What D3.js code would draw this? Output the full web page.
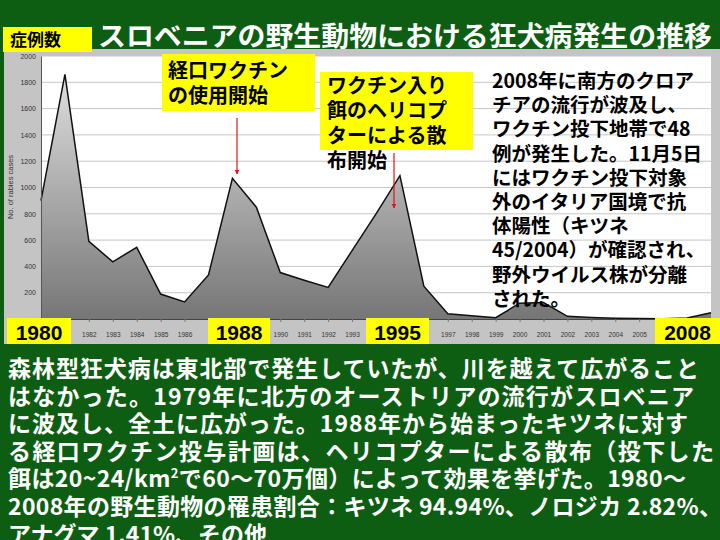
<!DOCTYPE html>
<html>
<head>
<meta charset="utf-8">
<script src="https://cdn.jsdelivr.net/npm/d3@7"></script>
<style>
html,body{margin:0;padding:0;background:#0d5e12;}
svg{display:block;}
</style>
</head>
<body>
<svg id="chart" width="720" height="540"></svg>
<script>
// ---- data ----
const years = [1980,1981,1982,1983,1984,1985,1986,1987,1988,1989,1990,1991,1992,1993,1994,1995,1996,1997,1998,1999,2000,2001,2002,2003,2004,2005,2006,2007,2008];
const cases = [900,1860,590,435,545,190,130,335,1070,850,353,295,240,520,800,1090,250,40,25,10,120,125,20,12,6,4,2,8,48];
const yTicks = [0,200,400,600,800,1000,1200,1400,1600,1800,2000];
const yAxisTitle = "No. of rabies cases";
const titleText = "スロベニアの野生動物における狂犬病発生の推移";
const yLabelBox = "症例数";
const highlightYears = ["1980","1988","1995","2008"];
const noteVaccine = ["経口ワクチン","の使用開始"];
const noteHeli = ["ワクチン入り","餌のヘリコプ","ターによる散","布開始"];
const noteCroatia = ["2008年に南方のクロア","チアの流行が波及し、","ワクチン投下地帯で48","例が発生した。11月5日","にはワクチン投下対象","外のイタリア国境で抗","体陽性（キツネ","45/2004）が確認され、","野外ウイルス株が分離","された。"];
const bodyText = [
  "森林型狂犬病は東北部で発生していたが、川を越えて広がること",
  "はなかった。1979年に北方のオーストリアの流行がスロベニア",
  "に波及し、全土に広がった。1988年から始まったキツネに対す",
  "る経口ワクチン投与計画は、ヘリコプターによる散布（投下した",
  ["餌は20~24/km","2","で60～70万個）によって効果を挙げた。1980～"],
  "2008年の野生動物の罹患割合：キツネ 94.94%、ノロジカ 2.82%、",
  "アナグマ 1.41%、その他"
];

// ---- layout ----
const svg = d3.select("#chart");
const GREEN = "#0d5e12", YELLOW = "#ffff00";
const CJK = "'Noto Sans CJK JP','Noto Sans CJK SC',sans-serif";
const LAT = "'Liberation Sans',Arial,sans-serif";
const plot = {x0:41, x1:711, y0:56, y1:319};
const yearBoxes = [[7,64],[208,62],[366,63],[655,65]];

svg.append("rect").attr("width",720).attr("height",540).attr("fill",GREEN);

// chart frame
svg.append("rect").attr("x",4).attr("y",49).attr("width",716).attr("height",295).attr("fill","#c4c4c4");
svg.append("rect").attr("x",plot.x0).attr("y",plot.y0).attr("width",plot.x1-plot.x0).attr("height",plot.y1-plot.y0).attr("fill","#ffffff");

const x = d3.scalePoint().domain(years).range([plot.x0, plot.x1]);
const y = d3.scaleLinear().domain([0,2000]).range([plot.y1, plot.y0]);

// gridlines
svg.append("g").selectAll("line").data(yTicks.filter(d=>d>0)).join("line")
  .attr("x1",plot.x0).attr("x2",plot.x1)
  .attr("y1",d=>y(d)).attr("y2",d=>y(d))
  .attr("stroke","#c6c6c6").attr("stroke-width",1);

// gradient
const defs = svg.append("defs");
const grad = defs.append("linearGradient").attr("id","areaGrad")
  .attr("gradientUnits","userSpaceOnUse").attr("x1",0).attr("x2",0).attr("y1",plot.y0).attr("y2",plot.y1);
grad.append("stop").attr("offset","0%").attr("stop-color","#e6e6e6");
grad.append("stop").attr("offset","100%").attr("stop-color","#767676");

const data = years.map((yr,i)=>({yr, v:cases[i]}));
svg.append("path").datum(data)
  .attr("d", d3.area().x(d=>x(d.yr)).y0(y(0)).y1(d=>y(d.v)))
  .attr("fill","url(#areaGrad)");
svg.append("path").datum(data)
  .attr("d", d3.line().x(d=>x(d.yr)).y(d=>y(d.v)))
  .attr("fill","none").attr("stroke","#111").attr("stroke-width",1.5).attr("stroke-linejoin","miter");

// axes
const yAxis = svg.append("g").attr("transform",`translate(${plot.x0},0)`)
  .call(d3.axisLeft(y).tickValues(yTicks.filter(d=>d>0)).tickFormat(d3.format("d")).tickSize(0).tickPadding(5));
yAxis.select(".domain").attr("stroke","#555");
yAxis.selectAll("text").attr("font-family",LAT).attr("font-size",7).attr("fill","#333");

// x labels: skip the ones the yellow year boxes cover
const covered = yr => yearBoxes.some(([bx,bw]) => x(yr)+9 > bx && x(yr)-9 < bx+bw);
const xAxis = svg.append("g").attr("transform",`translate(0,${plot.y1})`)
  .call(d3.axisBottom(x).tickValues(years).tickSize(3).tickPadding(10)
    .tickFormat(d => covered(d) ? "" : String(d)));
xAxis.select(".domain").attr("stroke","#444");
xAxis.selectAll(".tick line").attr("stroke","#777");
xAxis.selectAll("text").attr("font-family",LAT).attr("font-size",6.5).attr("fill","#333");

svg.append("text").attr("transform","translate(13,187) rotate(-90)")
  .attr("text-anchor","middle").attr("font-family",LAT).attr("font-size",7.5).attr("fill","#333")
  .text(yAxisTitle);

// title
svg.append("text").attr("x",98).attr("y",46).attr("font-family",CJK).attr("font-size",27)
  .attr("font-weight","bold").attr("fill","#ffffff")
  .attr("textLength",614).attr("lengthAdjust","spacingAndGlyphs").text(titleText);

// 症例数 box
svg.append("rect").attr("x",3).attr("y",27).attr("width",89).attr("height",25).attr("fill",YELLOW);
svg.append("text").attr("x",10).attr("y",46).attr("font-family",CJK).attr("font-size",17)
  .attr("font-weight","bold").attr("fill","#000").text(yLabelBox);

// annotation 1
svg.append("rect").attr("x",162).attr("y",54).attr("width",153).attr("height",57).attr("fill",YELLOW);
svg.append("g").selectAll("text").data(noteVaccine).join("text")
  .attr("x",168).attr("y",(d,i)=>78+i*24.5)
  .attr("font-family",CJK).attr("font-size",20).attr("font-weight","bold").attr("fill","#000").text(d=>d);

// annotation 2
svg.append("rect").attr("x",320).attr("y",72).attr("width",153).attr("height",78).attr("fill",YELLOW);
svg.append("g").selectAll("text").data(noteHeli).join("text")
  .attr("x",327).attr("y",(d,i)=>92.5+i*25)
  .attr("font-family",CJK).attr("font-size",20).attr("font-weight","bold").attr("fill","#000").text(d=>d);

// arrows
const RED = "#e8101a";
defs.append("marker").attr("id","arr").attr("viewBox","0 0 10 10").attr("refX",9).attr("refY",5)
  .attr("markerWidth",4).attr("markerHeight",4).attr("orient","auto")
  .append("path").attr("d","M0,0 L10,5 L0,10 z").attr("fill",RED);
[[237,118,174],[394,153,208]].forEach(a=>{
  svg.append("line").attr("x1",a[0]).attr("x2",a[0]).attr("y1",a[1]).attr("y2",a[2])
    .attr("stroke",RED).attr("stroke-width",1.2).attr("marker-end","url(#arr)");
});

// Croatia note
svg.append("g").selectAll("text").data(noteCroatia).join("text")
  .attr("x",492).attr("y",(d,i)=>88+i*24.2)
  .attr("font-family",CJK).attr("font-size",19.5).attr("font-weight","bold").attr("fill","#000").text(d=>d);

// highlight year boxes
highlightYears.forEach((t,i)=>{
  const [bx,bw] = yearBoxes[i];
  svg.append("rect").attr("x",bx).attr("y",318).attr("width",bw).attr("height",26).attr("fill",YELLOW);
  svg.append("text").attr("x",bx+bw/2).attr("y",340).attr("text-anchor","middle")
    .attr("font-family",LAT).attr("font-size",21).attr("font-weight","bold").attr("fill","#000").text(t);
});

// body text
const bodyEnds = [699,694,688,714,686,722,null];
bodyText.forEach((line,i)=>{
  const t = svg.append("text").attr("x",8).attr("y",377+i*27.6)
    .attr("font-family",CJK).attr("font-size",23).attr("font-weight","bold").attr("fill","#ffffff");
  if (bodyEnds[i]) t.attr("textLength",bodyEnds[i]-8).attr("lengthAdjust","spacing");
  if (Array.isArray(line)) {
    t.append("tspan").text(line[0]);
    t.append("tspan").attr("font-size",13).attr("dy",-9).text(line[1]);
    t.append("tspan").attr("dy",9).text(line[2]);
  } else {
    t.text(line);
  }
});
</script>
</body>
</html>
